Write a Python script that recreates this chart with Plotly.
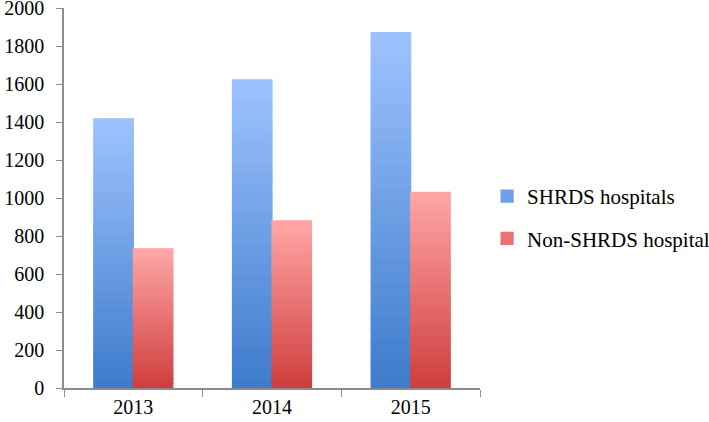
import plotly.graph_objects as go

years = ["2013", "2014", "2015"]
shrds = [1417, 1622, 1870]
non_shrds = [733, 880, 1030]
series_names = ["SHRDS hospitals", "Non-SHRDS hospital"]
y_ticks = [0, 200, 400, 600, 800, 1000, 1200, 1400, 1600, 1800, 2000]

N = 30  # gradient slices per bar


def lerp(c0, c1, t):
    return "rgb(%d,%d,%d)" % tuple(round(a + (b - a) * t) for a, b in zip(c0, c1))


styles = [
    ((0x3D, 0x7B, 0xCB), (0x9E, 0xC3, 0xFF), "a"),
    ((0xCF, 0x3D, 0x3D), (0xFF, 0xA6, 0xA6), "b"),
]

fig = go.Figure()
for name, vals, (c_bot, c_top, grp) in zip(series_names, [shrds, non_shrds], styles):
    for k in range(N):
        t = (k + 0.5) / N
        col = lerp(c_bot, c_top, t)
        fig.add_trace(go.Bar(
            x=years,
            y=[v / N for v in vals],
            base=[v * k / N for v in vals],
            offsetgroup=grp,
            marker=dict(color=col, line=dict(width=1.2, color=col)),
            name=name,
            legendgroup=grp,
            showlegend=(k == N // 2),
            hoverinfo="skip",
        ))

fig.update_layout(
    width=709, height=422,
    margin=dict(l=64, r=229, t=8, b=34, autoexpand=False),
    paper_bgcolor="white", plot_bgcolor="white",
    barmode="group", bargap=0.43, bargroupgap=0,
    font=dict(family="Liberation Serif", size=20, color="black"),
    legend=dict(x=1.017, y=0.449, xanchor="left", yanchor="middle",
                font=dict(size=21), tracegroupgap=12, traceorder="grouped",
                bgcolor="rgba(0,0,0,0)"),
)
fig.update_xaxes(
    automargin=False,
    showline=True, linecolor="#8c8c8c", linewidth=1.5,
    ticks="outside", tickson="boundaries", ticklen=7, tickcolor="#8c8c8c",
    showgrid=False, zeroline=False,
)
fig.update_yaxes(
    automargin=False,
    range=[0, 2000], tickvals=y_ticks,
    showline=True, linecolor="#8c8c8c", linewidth=1.5,
    ticks="outside", ticklen=6, tickcolor="#8c8c8c",
    ticklabelstandoff=8, ticklabeloverflow="allow",
    showgrid=False, zeroline=False,
)

fig.write_html("out.html", config={"displayModeBar": False})

# remove the default page margin so the figure fills the window exactly
with open("out.html", encoding="utf-8") as f:
    html = f.read()
html = html.replace("<head>", "<head><style>html,body{margin:0;padding:0;overflow:hidden;}</style>", 1)
with open("out.html", "w", encoding="utf-8") as f:
    f.write(html)
